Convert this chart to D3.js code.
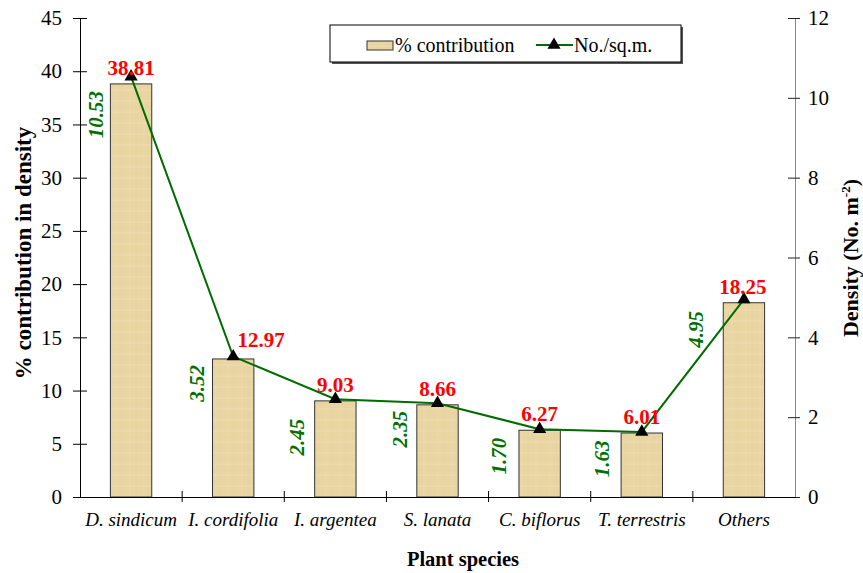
<!DOCTYPE html>
<html><head><meta charset="utf-8">
<script src="https://cdn.jsdelivr.net/npm/d3@7"></script>
<style>body{margin:0;background:#fff}svg{display:block}text{font-family:"Liberation Serif","Times New Roman",serif}</style>
</head><body>
<svg id="c" width="863" height="573"></svg>
<script>
const categories = ["D. sindicum","I. cordifolia","I. argentea","S. lanata","C. biflorus","T. terrestris","Others"];
const contribution = [38.81,12.97,9.03,8.66,6.27,6.01,18.25];
const density = [10.53,3.52,2.45,2.35,1.70,1.63,4.95];
const leftTicks = [0,5,10,15,20,25,30,35,40,45];
const rightTicks = [0,2,4,6,8,10,12];

// label layout tweaks (not data)
const redDx = [0,28,0,0,0,0,-1];
const greenDx = [-35,-37,-39,-38,-41,-40,-48];
const greenDy = [38,27,38,26,27,27,30];

const svg = d3.select("#c");
const L=80, R=795, T=18, B=497;
const x = d3.scaleBand().domain(categories).range([L,R]).paddingInner(0).paddingOuter(0);
const yL = d3.scaleLinear().domain([0,45]).range([B,T]);
const yR = d3.scaleLinear().domain([0,12]).range([B,T]);

const defs = svg.append("defs");
const pat = defs.append("pattern").attr("id","pap").attr("patternUnits","userSpaceOnUse").attr("width",14).attr("height",11);
pat.append("rect").attr("width",14).attr("height",11).attr("fill","#E9D5A2");
pat.append("line").attr("x1",0).attr("y1",2).attr("x2",14).attr("y2",2).attr("stroke","#F1E3BE").attr("stroke-width",1).attr("opacity",0.45);
pat.append("line").attr("x1",4).attr("y1",0).attr("x2",4).attr("y2",11).attr("stroke","#F0E1BA").attr("stroke-width",1).attr("opacity",0.35);
pat.append("line").attr("x1",10).attr("y1",0).attr("x2",10).attr("y2",11).attr("stroke","#DEC792").attr("stroke-width",0.7).attr("opacity",0.25);
pat.append("line").attr("x1",0).attr("y1",8).attr("x2",14).attr("y2",8).attr("stroke","#DFC993").attr("stroke-width",0.7).attr("opacity",0.25);

// bars
const bw = x.bandwidth()*0.405;
svg.selectAll("rect.bar").data(contribution).enter().append("rect")
  .attr("x",(d,i)=>x(categories[i])+x.bandwidth()/2-bw/2)
  .attr("y",d=>yL(d)).attr("width",bw).attr("height",d=>B-yL(d))
  .attr("fill","url(#pap)").attr("stroke","#333").attr("stroke-width",1);

// axes
const axL = d3.axisLeft(yL).tickValues(leftTicks).tickSize(0).tickPadding(18);
const gL = svg.append("g").attr("transform",`translate(${L},0)`).call(axL);
gL.attr("font-family",null);
gL.select(".domain").attr("stroke","#000");
gL.selectAll(".tick line").remove();
gL.selectAll(".tick").append("line").attr("x1",-7).attr("x2",7).attr("stroke","#000");
gL.selectAll(".tick text").attr("font-size",21).attr("fill","#000");

const axR = d3.axisRight(yR).tickValues(rightTicks).tickSize(0).tickPadding(13);
const gR = svg.append("g").attr("transform",`translate(${R},0)`).call(axR);
gR.attr("font-family",null);
gR.select(".domain").attr("stroke","#888");
gR.selectAll(".tick line").remove();
gR.selectAll(".tick").append("line").attr("x1",-7).attr("x2",5).attr("stroke","#222");
gR.selectAll(".tick text").attr("font-size",21).attr("fill","#000");

const gX = svg.append("g").attr("transform",`translate(0,${B})`).call(d3.axisBottom(x).tickSize(0).tickPadding(16));
gX.attr("font-family",null);
gX.select(".domain").attr("stroke","#000").attr("stroke-width",1.2);
gX.selectAll(".tick text").attr("font-size",19).attr("font-style","italic").attr("fill","#000");
// category boundary ticks
svg.append("g").selectAll("line").data(categories.slice(1)).enter().append("line")
  .attr("x1",d=>x(d)).attr("x2",d=>x(d)).attr("y1",B-6).attr("y2",B+5).attr("stroke","#000");

// line
const cx = i=>x(categories[i])+x.bandwidth()/2;
const line = d3.line().x((d,i)=>cx(i)).y(d=>yR(d));
svg.append("path").datum(density).attr("d",line).attr("fill","none").attr("stroke","#006B00").attr("stroke-width",2);
svg.selectAll("path.mk").data(density).enter().append("path")
  .attr("transform",(d,i)=>`translate(${cx(i)},${yR(d)})`)
  .attr("d",d3.symbol().type(d3.symbolTriangle).size(75)).attr("fill","#000");

// red labels
svg.selectAll("text.red").data(contribution).enter().append("text")
  .attr("x",(d,i)=>cx(i)+redDx[i]).attr("y",(d,i)=>yL(d)-(i===1?12:9))
  .attr("text-anchor","middle").attr("font-size",21).attr("font-weight","bold").attr("fill","#FF0000")
  .text(d=>d.toFixed(2));

// green labels
svg.selectAll("text.grn").data(density).enter().append("text")
  .attr("transform",(d,i)=>`translate(${cx(i)+greenDx[i]},${yR(d)+greenDy[i]}) rotate(-90)`)
  .attr("text-anchor","middle").attr("dy","0.35em").attr("font-size",21).attr("font-weight","bold").attr("font-style","italic").attr("fill","#007000")
  .text(d=>d.toFixed(2));

// titles
svg.append("text").attr("transform","translate(31,253) rotate(-90)").attr("text-anchor","middle")
  .attr("font-size",23).attr("font-weight","bold").text("% contribution in density");
const rt = svg.append("text").attr("transform","translate(858,258) rotate(-90)").attr("text-anchor","middle")
  .attr("font-size",22).attr("font-weight","bold");
rt.append("tspan").text("Density (No. m");
rt.append("tspan").attr("font-size",13).attr("dy",-8).text("-2");
rt.append("tspan").attr("dy",8).text(")");
svg.append("text").attr("x",463).attr("y",566).attr("text-anchor","middle")
  .attr("font-size",20.5).attr("font-weight","bold").text("Plant species");

// legend
const lg = svg.append("g");
lg.append("rect").attr("x",332).attr("y",27).attr("width",351).attr("height",37).attr("fill","#555");
lg.append("rect").attr("x",330).attr("y",25).attr("width",351).attr("height",37).attr("fill","#fff").attr("stroke","#000").attr("stroke-width",1);
lg.append("rect").attr("x",367).attr("y",41).attr("width",26).attr("height",9).attr("fill","url(#pap)").attr("stroke","#333");
lg.append("text").attr("x",395).attr("y",52).attr("font-size",20).text("% contribution");
lg.append("line").attr("x1",536).attr("x2",573).attr("y1",45).attr("y2",45).attr("stroke","#006B00").attr("stroke-width",2);
lg.append("path").attr("transform","translate(554,45)").attr("d",d3.symbol().type(d3.symbolTriangle).size(75)).attr("fill","#000");
lg.append("text").attr("x",574).attr("y",52).attr("font-size",20).text("No./sq.m.");
</script>
</body></html>
